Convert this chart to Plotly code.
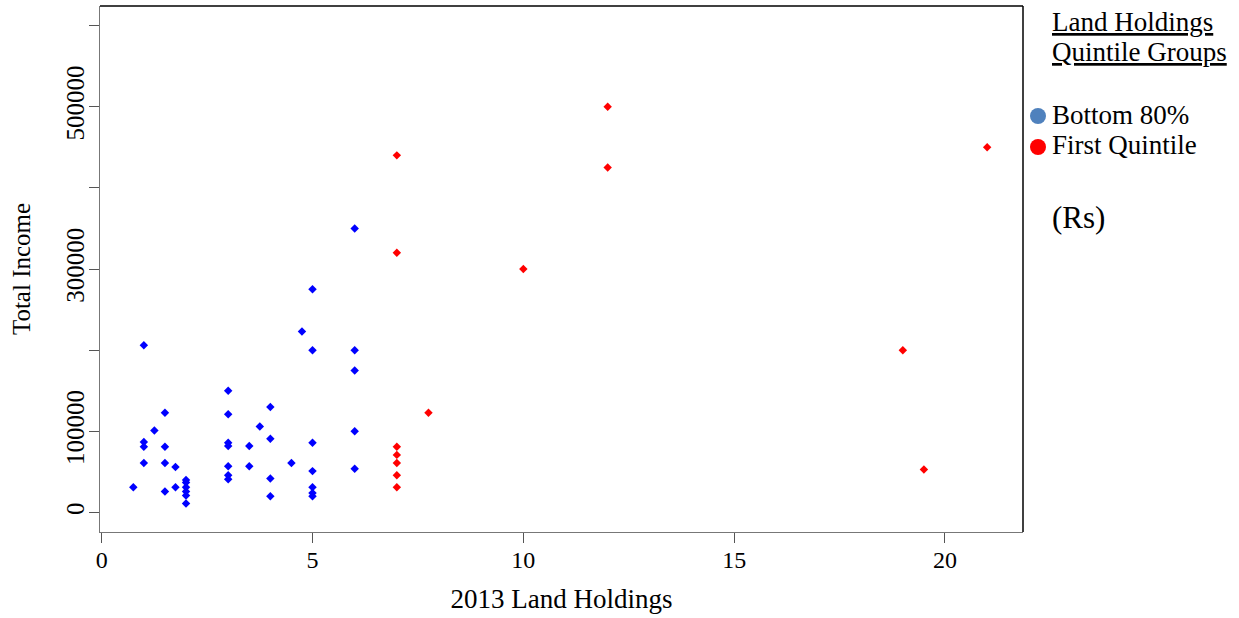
import plotly.graph_objects as go

# Bottom 80% group
bottom_x = [0.75, 1, 1, 1, 1, 1.25, 1.5, 1.5, 1.5, 1.5, 1.75, 1.75,
            2, 2, 2, 2, 2, 2, 3, 3, 3, 3, 3, 3, 3, 3.5, 3.5, 3.75,
            4, 4, 4, 4, 4.5, 4.75, 5, 5, 5, 5, 5, 5, 5, 6, 6, 6, 6, 6]
bottom_y = [31000, 206000, 87000, 81000, 61000, 101000, 123000, 81000, 61000, 26000, 56000, 31000,
            40000, 37000, 31000, 26000, 21000, 11000, 150000, 121000, 86000, 82000, 57000, 46000, 41000, 82000, 57000, 106000,
            130000, 91000, 42000, 20000, 61000, 223000, 275000, 200000, 86000, 51000, 31000, 24000, 20000,
            350000, 200000, 175000, 100000, 54000]

# First Quintile group
first_x = [7, 7, 7, 7, 7, 7, 7, 7.75, 10, 12, 12, 19, 19.5, 21]
first_y = [440000, 320000, 81000, 71000, 61000, 46000, 31000, 123000, 300000, 500000, 425000, 200000, 53000, 450000]

x_ticks = [0, 5, 10, 15, 20]
y_ticks = [0, 100000, 200000, 300000, 400000, 500000, 600000]
y_ticktext = ["0", "100000", "", "300000", "", "500000", ""]

FONT = "Liberation Serif, Times New Roman, serif"

fig = go.Figure()
fig.add_trace(go.Scatter(x=bottom_x, y=bottom_y, mode="markers", name="Bottom 80%",
                         marker=dict(symbol="diamond", size=6.5, color="#0000FF", line=dict(width=0))))
fig.add_trace(go.Scatter(x=first_x, y=first_y, mode="markers", name="First Quintile",
                         marker=dict(symbol="diamond", size=6.5, color="#FF0000", line=dict(width=0))))

L, R, T, B = 100, 216, 6, 86
W, H = 1239, 618
pw, ph = W - L - R, H - T - B

def px(xp):
    return (xp - L) / pw

def py(yp):
    return (H - B - yp) / ph

fig.update_layout(
    width=W, height=H,
    margin=dict(l=L, r=R, t=T, b=B, pad=0),
    paper_bgcolor="white", plot_bgcolor="white",
    showlegend=False,
    font=dict(family=FONT, color="black", size=22),
    xaxis=dict(range=[-0.04, 21.85], tickvals=x_ticks, ticks="outside", ticklen=10,
               tickcolor="#555555", tickwidth=1, showgrid=False, zeroline=False,
               showline=True, linecolor="#777777", linewidth=1, ticklabelstandoff=-4,
               tickfont=dict(size=24, family=FONT),
               title=dict(text="2013 Land Holdings", font=dict(size=27, family=FONT), standoff=17)),
    yaxis=dict(range=[-24000, 624000], tickvals=y_ticks, ticktext=y_ticktext, ticks="outside",
               ticklen=10, tickcolor="#555555", tickwidth=1, tickangle=-90, ticklabelstandoff=-5,
               showgrid=False, zeroline=False, showline=True, linecolor="#777777", linewidth=1,
               tickfont=dict(size=25, family=FONT),
               title=dict(text="Total Income", font=dict(size=25, family=FONT), standoff=24)),
)

# box top & right in black
fig.add_shape(type="line", xref="paper", yref="paper", x0=0, x1=1, y0=1, y1=1,
              line=dict(color="black", width=1.5))
fig.add_shape(type="line", xref="paper", yref="paper", x0=1, x1=1, y0=0, y1=1,
              line=dict(color="black", width=1.5))

# custom legend
def ann(text, xp, yp, size):
    fig.add_annotation(text=text, xref="paper", yref="paper", x=px(xp), y=py(yp),
                       xanchor="left", yanchor="middle", showarrow=False,
                       font=dict(size=size, family=FONT, color="black"))

ann("<u>Land Holdings</u>", 1050, 22, 27)
ann("<u>Quintile Groups</u>", 1050, 52, 27)
ann("Bottom 80%", 1050, 115, 27)
ann("First Quintile", 1050, 145, 27)
ann("(Rs)", 1050, 217, 31)

for color, yp in [("#4F81BD", 116), ("#FF0000", 147)]:
    fig.add_shape(type="circle", xref="paper", yref="paper",
                  xsizemode="pixel", ysizemode="pixel",
                  xanchor=px(1038), yanchor=py(yp),
                  x0=-8, x1=8, y0=-8, y1=8,
                  fillcolor=color, line=dict(width=0))

fig.write_html("out.html")
